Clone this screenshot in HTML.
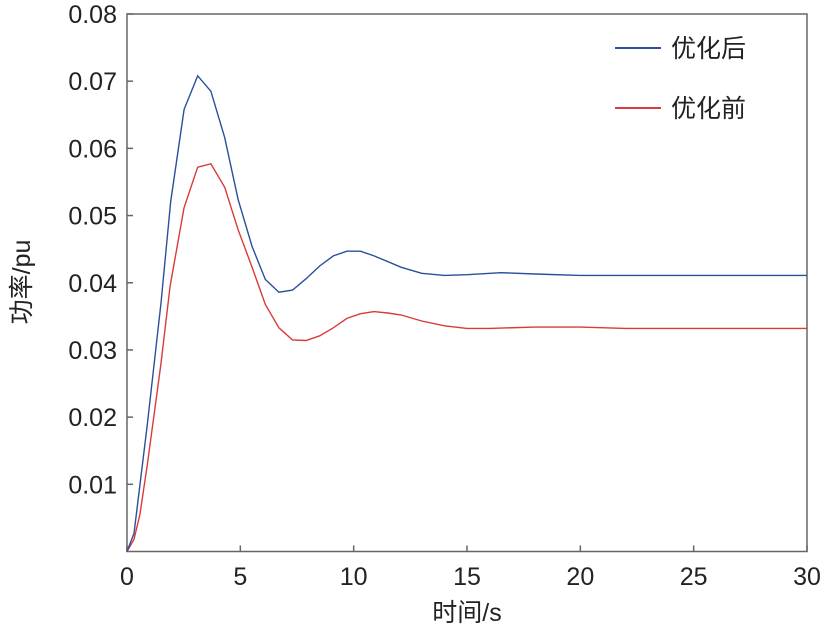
<!DOCTYPE html>
<html><head><meta charset="utf-8"><style>
body{margin:0;background:#fff;}
svg text{font-family:"Liberation Sans","Noto Sans CJK SC",sans-serif;fill:#222;}
</style></head><body>
<svg id="chart" width="827" height="634" viewBox="0 0 827 634" xmlns="http://www.w3.org/2000/svg">
<g id="axes"></g>
<g id="series"></g>
<g>
<line x1="615" y1="48" x2="661" y2="48" stroke="#2b4f9a" stroke-width="2"/>
<text x="671" y="57" font-size="25">优化后</text>
<line x1="615" y1="108" x2="661" y2="108" stroke="#d93a3a" stroke-width="2"/>
<text x="671" y="117" font-size="25">优化前</text>
</g>
<text x="467" y="621" font-size="25" text-anchor="middle">时间/s</text>
<text transform="translate(30,282) rotate(-90)" font-size="25" text-anchor="middle">功率/pu</text>
</svg>
<script>
const xTicks=[0,5,10,15,20,25,30];
const yTicks=[0.01,0.02,0.03,0.04,0.05,0.06,0.07,0.08];
const yTickLabels=["0.01","0.02","0.03","0.04","0.05","0.06","0.07","0.08"];
const timeAfter=[0,0.31,0.9,1.5,1.93,2.52,3.12,3.7,4.31,4.9,5.52,6.1,6.7,7.3,7.9,8.5,9.1,9.7,10.3,10.9,12.1,13,14,15,16.5,18,20,25,30];
const valAfter=[0,0.0027,0.019,0.037,0.0521,0.0658,0.0708,0.0685,0.0616,0.0524,0.0454,0.0405,0.0386,0.0389,0.0406,0.0425,0.0440,0.0447,0.0447,0.0440,0.0423,0.0414,0.0411,0.0412,0.0415,0.0413,0.0411,0.0411,0.0411];
const timeBefore=[0,0.31,0.57,0.9,1.5,1.9,2.52,3.12,3.7,4.31,4.9,5.52,6.1,6.7,7.3,7.9,8.5,9.1,9.7,10.3,10.9,11.5,12.1,13,14,15,16,18,20,22,30];
const valBefore=[0,0.0018,0.0055,0.013,0.028,0.0395,0.0512,0.0572,0.0577,0.0542,0.0479,0.0423,0.0368,0.0333,0.0315,0.0314,0.0321,0.0333,0.0347,0.0354,0.0357,0.0355,0.0352,0.0343,0.0336,0.0332,0.0332,0.0334,0.0334,0.0332,0.0332];
const L=127,R=807,T=14,B=551.5;
const xs=t=>L+(t/30)*(R-L);
const ys=v=>B-(v/0.08)*(B-T);
const NS="http://www.w3.org/2000/svg";
const axes=document.getElementById('axes');
function mk(tag,attrs,parent){const e=document.createElementNS(NS,tag);for(const k in attrs)e.setAttribute(k,attrs[k]);parent.appendChild(e);return e;}
const frame=mk('rect',{x:L,y:T,width:R-L,height:B-T,fill:'none',stroke:'#666','stroke-width':1.5},axes);


xTicks.forEach(t=>{
  const tk=mk('line',{x1:xs(t),x2:xs(t),y1:B,y2:B-6,stroke:'#666','stroke-width':1.5},axes);
  
  
  const tx=mk('text',{x:xs(t),y:585,'font-size':25,'text-anchor':'middle'},axes);
  tx.textContent=String(t);
  
  
});
yTicks.forEach((v,i)=>{
  const tk=mk('line',{x1:L,x2:L+6,y1:ys(v),y2:ys(v),stroke:'#666','stroke-width':1.5},axes);
  
  
  const tx=mk('text',{x:117,y:ys(v)+9,'font-size':25,'text-anchor':'end'},axes);
  tx.textContent=yTickLabels[i];
  
  
});
const sg=document.getElementById('series');
function line(ts,vs,color,name){
  const d=ts.map((t,i)=>(i?'L':'M')+xs(t).toFixed(1)+','+ys(vs[i]).toFixed(1)).join(' ');
  const p=mk('path',{d:d,fill:'none',stroke:color,'stroke-width':1.4},sg);
  
  
}
line(timeBefore,valBefore,'#d93a3a','line-before-optimization');
line(timeAfter,valAfter,'#2b4f9a','line-after-optimization');
</script>
</body></html>
